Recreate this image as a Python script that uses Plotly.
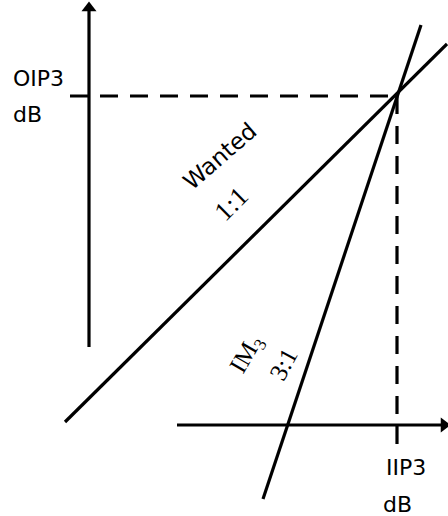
import plotly.graph_objects as go

# Schematic geometry (canvas units: x to the right, y downward)
out_axis_x = [89, 89]
out_axis_y = [347, 8]
in_axis_x = [177, 444]
in_axis_y = [425, 425]

wanted_x = [65, 447]
wanted_y = [422, 44]
im3_x = [263, 421]
im3_y = [499, 25]

ip3_point = (397, 96)
oip3_dash_x = [70, ip3_point[0]]
oip3_dash_y = [ip3_point[1], ip3_point[1]]
iip3_dash_x = [ip3_point[0], ip3_point[0]]
iip3_dash_y = [ip3_point[1], 445]

BLACK = "#000000"
SANS = "DejaVu Sans"
SERIF = "Liberation Serif"

fig = go.Figure()

def seg(xs, ys, dash="solid", width=3.2):
    fig.add_trace(go.Scatter(x=xs, y=ys, mode="lines",
                             line=dict(color=BLACK, width=width, dash=dash),
                             hoverinfo="skip", showlegend=False))

seg(out_axis_x, out_axis_y)
seg(in_axis_x, in_axis_y)
seg(wanted_x, wanted_y)
seg(im3_x, im3_y)
seg(oip3_dash_x, oip3_dash_y, dash="18px,12px")
seg(iip3_dash_x, iip3_dash_y, dash="18px,12px")

# Arrow heads on both axes
fig.add_trace(go.Scatter(x=[out_axis_x[1]], y=[out_axis_y[1]], mode="markers",
                         marker=dict(symbol="triangle-up", size=13, color=BLACK),
                         hoverinfo="skip", showlegend=False))
fig.add_trace(go.Scatter(x=[in_axis_x[1]], y=[in_axis_y[1]], mode="markers",
                         marker=dict(symbol="triangle-right", size=13, color=BLACK),
                         hoverinfo="skip", showlegend=False))

def label(x, y, text, font=SANS, size=22, angle=0, xanchor="center"):
    fig.add_annotation(x=x, y=y, text=text, showarrow=False, textangle=angle,
                       xanchor=xanchor, yanchor="middle",
                       font=dict(family=font, size=size, color=BLACK))

label(11, 78, "OIP3", xanchor="left")
label(11, 114, "dB", xanchor="left")
label(406, 467, "IIP3")
label(397, 504, "dB")
label(220, 156, "Wanted", size=23, angle=-41)
label(231, 204, "1:1", font=SERIF, size=27, angle=-45)
label(247, 354, "IM<sub>3</sub>", font=SERIF, size=25, angle=-60)
label(283, 364, "3:1", font=SERIF, size=25, angle=-62)

fig.update_layout(
    width=448, height=516,
    margin=dict(l=0, r=0, t=0, b=0),
    paper_bgcolor="white", plot_bgcolor="white",
    xaxis=dict(range=[0, 448], visible=False, fixedrange=True),
    yaxis=dict(range=[516, 0], visible=False, fixedrange=True),
)

fig.write_html("out.html")
